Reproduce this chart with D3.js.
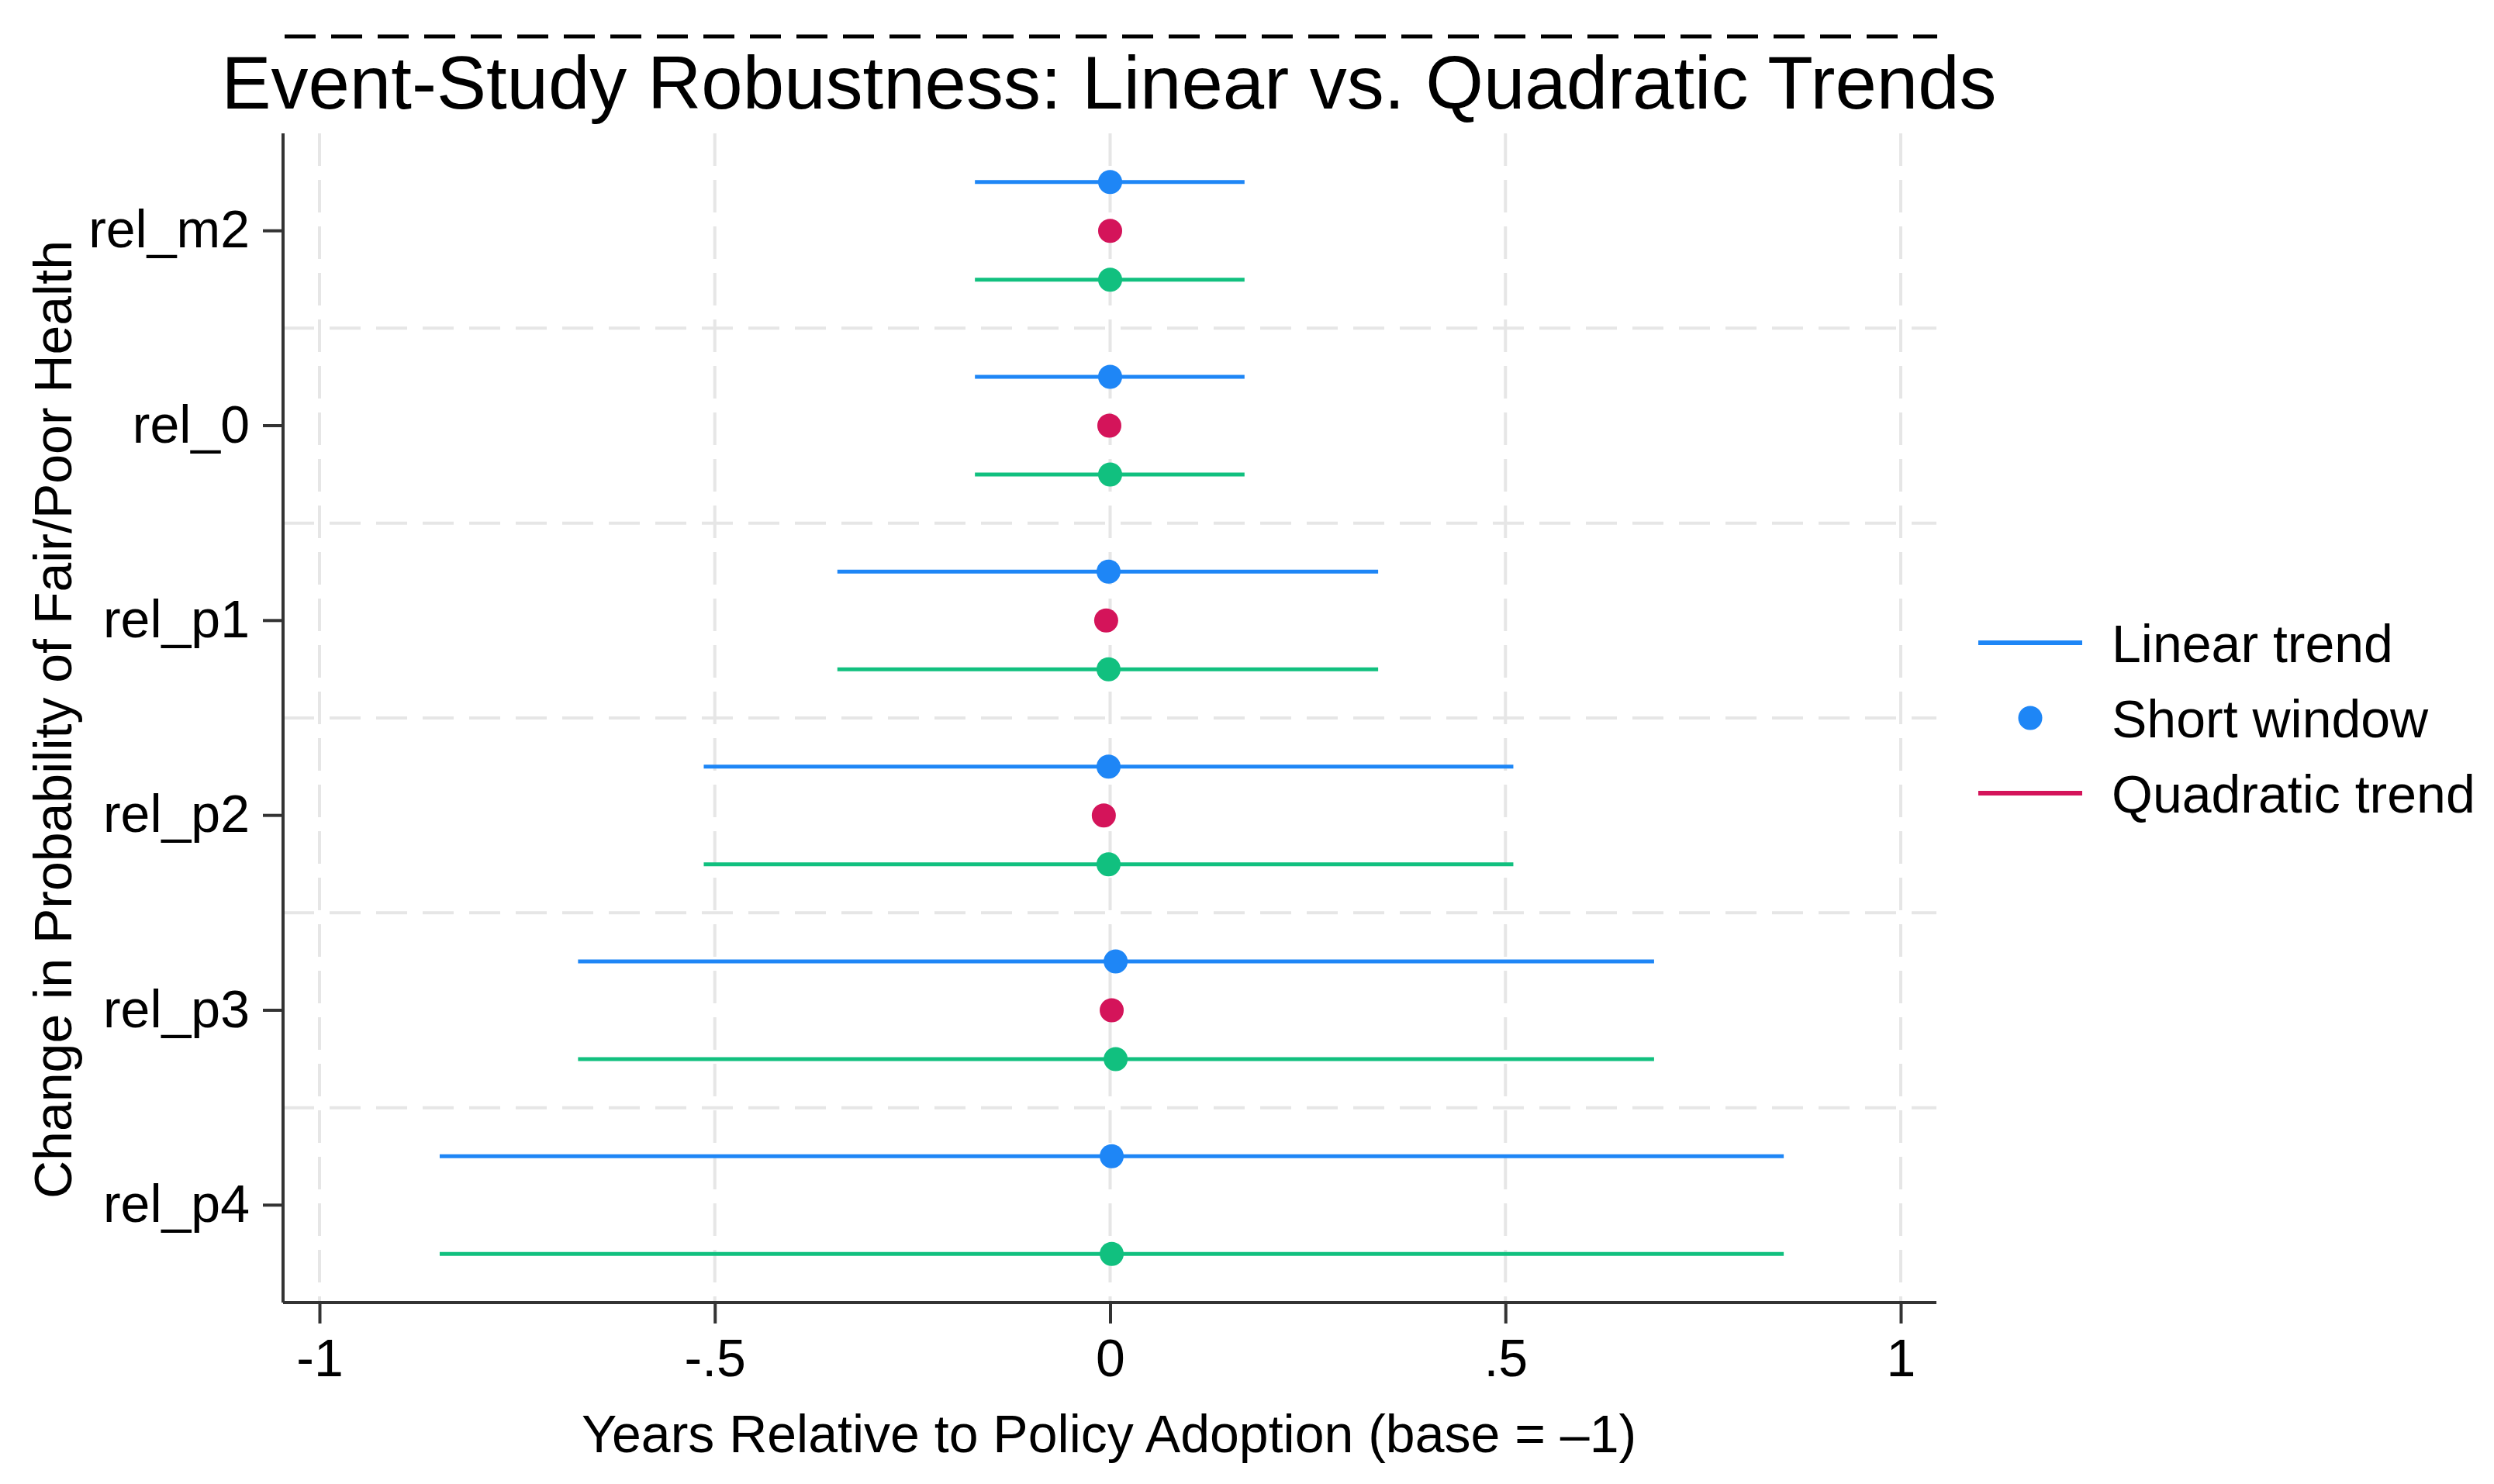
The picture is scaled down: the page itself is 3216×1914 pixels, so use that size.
<!DOCTYPE html>
<html>
<head>
<meta charset="utf-8">
<script src="https://cdn.jsdelivr.net/npm/d3@7"></script>
<style>
  body { margin: 0; background: #fff; }
  svg { display: block; font-family: "Liberation Sans", Arial, Helvetica, sans-serif; }
</style>
</head>
<body>
<svg id="chart" width="3216" height="1914"></svg>
<script>
// categories on the y axis, top to bottom
var categories = ["rel_m2", "rel_0", "rel_p1", "rel_p2", "rel_p3", "rel_p4"];
var xTicks = [-1, -0.5, 0, 0.5, 1];
var xTickLabels = ["-1", "-.5", "0", ".5", "1"];

// blue series (linear trend): point estimate and interval
var linearEst = [0.000, 0.000, -0.002, -0.002, 0.007, 0.002];
var linearLo  = [-0.171, -0.171, -0.345, -0.514, -0.673, -0.848];
var linearHi  = [0.170, 0.170, 0.339, 0.510, 0.688, 0.852];

// green series (short window)
var shortEst = [0.000, 0.000, -0.002, -0.002, 0.007, 0.002];
var shortLo  = [-0.171, -0.171, -0.345, -0.514, -0.673, -0.848];
var shortHi  = [0.170, 0.170, 0.339, 0.510, 0.688, 0.852];

// red series (quadratic trend), point only; no estimate for rel_p4
var quadEst = [0.000, -0.001, -0.005, -0.008, 0.002, null];

var legendLabels = ["Linear trend", "Short window", "Quadratic trend"];

var blue = "#1e86f6", red = "#d4145a", green = "#11c07f";

var svg = d3.select("#chart");
// note: "top" is taken by window.top, so use plot* names
var plotLeft = 365, plotRight = 2497, plotTop = 172, plotBottom = 1680;

var x = d3.scaleLinear().domain([-1, 1]).range([412, 2451]);
var y = d3.scaleBand().domain(categories).range([plotTop, plotBottom]).padding(0);
var offset = 63;

// grid
var grid = svg.append("g").attr("class", "grid");
grid.selectAll("line.v").data(xTicks).enter().append("line")
  .attr("x1", function (d) { return x(d); })
  .attr("x2", function (d) { return x(d); })
  .attr("y1", plotTop).attr("y2", plotBottom)
  .attr("stroke", "#e6e6e6").attr("stroke-width", 4)
  .attr("stroke-dasharray", "42,18");
grid.selectAll("line.h").data(categories.slice(1)).enter().append("line")
  .attr("x1", plotLeft).attr("x2", plotRight)
  .attr("y1", function (d) { return y(d); })
  .attr("y2", function (d) { return y(d); })
  .attr("stroke", "#e6e6e6").attr("stroke-width", 4)
  .attr("stroke-dasharray", "40,20");

// one row per category and series
var rows = [];
categories.forEach(function (c, i) {
  rows.push({ cat: c, est: linearEst[i], lo: linearLo[i], hi: linearHi[i], dy: -offset, color: blue });
  rows.push({ cat: c, est: shortEst[i], lo: shortLo[i], hi: shortHi[i], dy: offset, color: green });
  if (quadEst[i] !== null) {
    rows.push({ cat: c, est: quadEst[i], lo: null, hi: null, dy: 0, color: red });
  }
});

var cy = function (d) { return y(d.cat) + y.bandwidth() / 2 + d.dy; };

var marks = svg.append("g").attr("class", "marks");
marks.selectAll("line").data(rows.filter(function (d) { return d.lo !== null; }))
  .enter().append("line")
  .attr("x1", function (d) { return x(d.lo); })
  .attr("x2", function (d) { return x(d.hi); })
  .attr("y1", cy).attr("y2", cy)
  .attr("stroke", function (d) { return d.color; })
  .attr("stroke-width", 5);
marks.selectAll("circle").data(rows).enter().append("circle")
  .attr("cx", function (d) { return x(d.est); })
  .attr("cy", cy)
  .attr("r", 15.5)
  .attr("fill", function (d) { return d.color; });

// axes
var axisColor = "#333";
var xAxis = svg.append("g").attr("transform", "translate(0," + plotBottom + ")")
  .call(d3.axisBottom(x).tickValues(xTicks)
    .tickFormat(function (d, i) { return xTickLabels[i]; })
    .tickSize(27).tickPadding(20));
xAxis.select(".domain").remove();
xAxis.append("line").attr("x1", plotLeft).attr("x2", plotRight).attr("y1", 0).attr("y2", 0)
  .attr("stroke", axisColor).attr("stroke-width", 4);
xAxis.selectAll(".tick line").attr("stroke", axisColor).attr("stroke-width", 4);
xAxis.selectAll(".tick text").attr("font-size", 68).attr("fill", "#000")
  .attr("font-family", "Liberation Sans, Arial, sans-serif");

var yAxis = svg.append("g").attr("transform", "translate(" + plotLeft + ",0)")
  .call(d3.axisLeft(y).tickSize(26).tickPadding(17));
yAxis.select(".domain").remove();
yAxis.append("line").attr("x1", 0).attr("x2", 0).attr("y1", plotTop).attr("y2", plotBottom)
  .attr("stroke", axisColor).attr("stroke-width", 4);
yAxis.selectAll(".tick line").attr("stroke", axisColor).attr("stroke-width", 4);
yAxis.selectAll(".tick text").attr("font-size", 68).attr("fill", "#000")
  .attr("font-family", "Liberation Sans, Arial, sans-serif");

// titles
svg.append("line").attr("x1", 367).attr("x2", 2498).attr("y1", 47).attr("y2", 47)
  .attr("stroke", "#000").attr("stroke-width", 5).attr("stroke-dasharray", "40,20");
svg.append("text").attr("x", 1430).attr("y", 140).attr("text-anchor", "middle")
  .attr("font-size", 96).text("Event-Study Robustness: Linear vs. Quadratic Trends");
svg.append("text").attr("x", 1430).attr("y", 1873).attr("text-anchor", "middle")
  .attr("font-size", 68).text("Years Relative to Policy Adoption (base = \u20131)");
svg.append("text").attr("transform", "translate(92,928) rotate(-90)")
  .attr("text-anchor", "middle").attr("font-size", 68)
  .text("Change in Probability of Fair/Poor Health");

// legend
var legendY = [829, 926, 1023];
var legend = svg.append("g");
legendLabels.forEach(function (label, i) {
  if (i === 1) {
    legend.append("circle").attr("cx", 2618).attr("cy", legendY[i]).attr("r", 15.5).attr("fill", blue);
  } else {
    legend.append("line").attr("x1", 2551).attr("x2", 2685)
      .attr("y1", legendY[i]).attr("y2", legendY[i])
      .attr("stroke", i === 0 ? blue : red).attr("stroke-width", 6);
  }
  legend.append("text").attr("x", 2723).attr("y", legendY[i] + 25)
    .attr("font-size", 68).text(label);
});
</script>
</body>
</html>
